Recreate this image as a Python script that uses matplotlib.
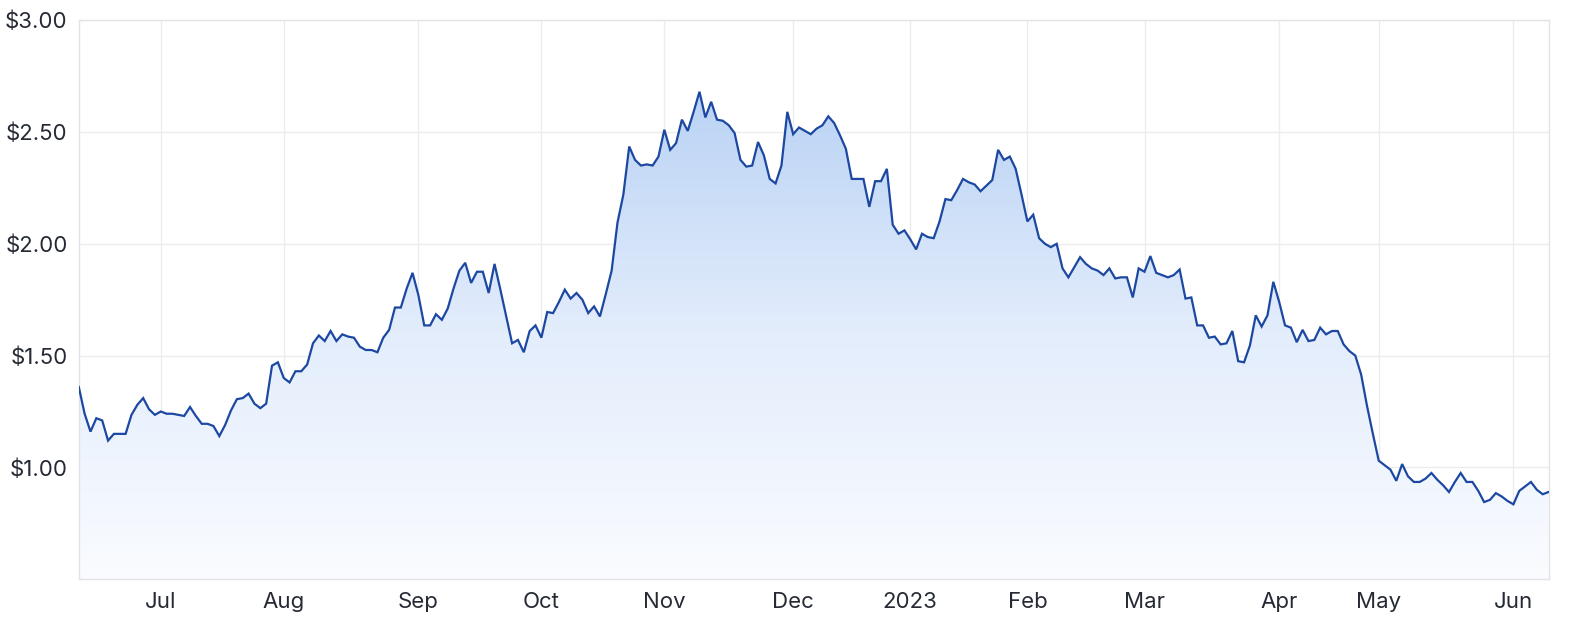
import numpy as np
import pandas as pd
import matplotlib
matplotlib.use("Agg")
import matplotlib.pyplot as plt
from matplotlib.colors import LinearSegmentedColormap
from matplotlib.patches import PathPatch

plt.rcParams["font.family"] = ["Inter", "DejaVu Sans"]

# ASX trading days, 10 Jun 2022 - 9 Jun 2023
HOLIDAYS = ["2022-06-13", "2022-09-22", "2022-12-26", "2022-12-27", "2023-01-02",
            "2023-01-26", "2023-04-07", "2023-04-10", "2023-04-25"]
START, END = "2022-06-10", "2023-06-09"

# closing price per trading day
PRICES = [
    1.36, 1.24, 1.16, 1.22, 1.21, 1.12, 1.15, 1.15, 1.15, 1.235,
    1.28, 1.31, 1.26, 1.235, 1.25, 1.24, 1.24, 1.235, 1.23, 1.27,
    1.23, 1.195, 1.195, 1.185, 1.14, 1.19, 1.255, 1.305, 1.31, 1.33,
    1.285, 1.265, 1.285, 1.455, 1.47, 1.40, 1.38, 1.43, 1.43, 1.46,
    1.555, 1.59, 1.565, 1.61, 1.565, 1.595, 1.585, 1.58, 1.54, 1.525,
    1.525, 1.515, 1.58, 1.615, 1.715, 1.715, 1.80, 1.87, 1.77, 1.635,
    1.635, 1.685, 1.66, 1.71, 1.80, 1.88, 1.915, 1.825, 1.875, 1.875,
    1.78, 1.91, 1.795, 1.675, 1.555, 1.57, 1.515, 1.61, 1.635, 1.58,
    1.695, 1.69, 1.74, 1.795, 1.755, 1.78, 1.75, 1.69, 1.72, 1.675,
    1.775, 1.88, 2.095, 2.22, 2.435, 2.375, 2.35, 2.355, 2.35, 2.39,
    2.51, 2.42, 2.45, 2.555, 2.505, 2.59, 2.68, 2.565, 2.635, 2.555,
    2.55, 2.53, 2.495, 2.375, 2.345, 2.35, 2.455, 2.395, 2.29, 2.27,
    2.35, 2.59, 2.49, 2.52, 2.505, 2.49, 2.515, 2.53, 2.57, 2.54,
    2.485, 2.425, 2.29, 2.29, 2.29, 2.165, 2.28, 2.28, 2.335, 2.085,
    2.045, 2.06, 2.02, 1.975, 2.045, 2.03, 2.025, 2.10, 2.20, 2.195,
    2.24, 2.29, 2.275, 2.265, 2.235, 2.26, 2.285, 2.42, 2.375, 2.39,
    2.335, 2.22, 2.10, 2.13, 2.025, 2.00, 1.985, 2.00, 1.89, 1.85,
    1.895, 1.94, 1.91, 1.89, 1.88, 1.86, 1.89, 1.845, 1.85, 1.85,
    1.76, 1.89, 1.875, 1.945, 1.87, 1.86, 1.85, 1.86, 1.885, 1.755,
    1.76, 1.635, 1.635, 1.58, 1.585, 1.55, 1.555, 1.61, 1.475, 1.47,
    1.545, 1.68, 1.63, 1.68, 1.83, 1.74, 1.635, 1.625, 1.56, 1.615,
    1.565, 1.57, 1.625, 1.595, 1.61, 1.61, 1.55, 1.52, 1.50, 1.415,
    1.275, 1.15, 1.03, 1.01, 0.99, 0.94, 1.015, 0.96, 0.935, 0.935,
    0.95, 0.975, 0.945, 0.92, 0.89, 0.935, 0.975, 0.935, 0.935, 0.895,
    0.845, 0.855, 0.885, 0.87, 0.85, 0.835, 0.895, 0.915, 0.935, 0.90,
    0.88, 0.89,
]
YTICKS = [1.0, 1.5, 2.0, 2.5, 3.0]

dates = pd.bdate_range(START, END)
dates = dates[~dates.isin(pd.to_datetime(HOLIDAYS))]
df = pd.DataFrame({"date": dates, "price": PRICES})
x = np.arange(len(df))
y = df["price"].to_numpy()

# first trading day of each month -> tick
month = df["date"].dt.to_period("M")
first = np.where(month.ne(month.shift()))[0][1:]
labels = [("2023" if df["date"][i].month == 1 else df["date"][i].strftime("%b")) for i in first]

LINE = "#1c48a1"
GRID = "#ececee"
TEXT = "#262a35"

fig = plt.figure(figsize=(15.85, 6.3), dpi=100)
ax = fig.add_axes([0.0497, 0.0806, 0.9273, 0.8874])

y0 = 0.5
fill = ax.fill_between(x, y, y0, color="none", lw=0)
cmap = LinearSegmentedColormap.from_list("g", ["#fafcff", "#e3edfc", "#b9d2f4"])
grad = np.linspace(0, 1, 256).reshape(-1, 1)
im = ax.imshow(grad, cmap=cmap, aspect="auto", origin="lower",
               extent=[x[0], x[-1], y0, 2.7], zorder=1)
path = fill.get_paths()[0]
patch = PathPatch(path, transform=ax.transData, facecolor="none", edgecolor="none")
ax.add_patch(patch)
im.set_clip_path(patch)

ax.plot(x, y, color=LINE, lw=1.6, zorder=3, solid_joinstyle="miter")

ax.set_xlim(x[0], x[-1])
ax.set_ylim(y0, 3.0)
ax.set_xticks(first)
ax.set_xticklabels(labels)
ax.set_yticks(YTICKS)
ax.set_yticklabels([f"${v:.2f}" for v in YTICKS])
ax.tick_params(length=0, labelsize=16, colors=TEXT)
ax.tick_params(axis="x", pad=9)
ax.tick_params(axis="y", pad=8)
ax.grid(True, color=GRID, lw=1, zorder=0)
ax.set_axisbelow(True)
for s in ax.spines.values():
    s.set_color("#e3e3e6")
    s.set_linewidth(1)

fig.savefig("out.png", dpi=100)
